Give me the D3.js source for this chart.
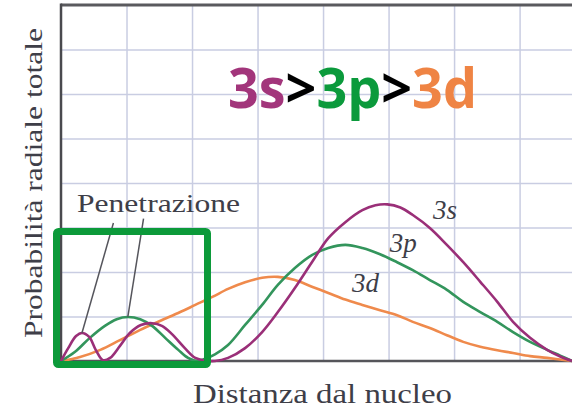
<!DOCTYPE html>
<html>
<head>
<meta charset="utf-8">
<title>Probabilità radiale totale</title>
<script src="https://d3js.org/d3.v7.min.js"></script>
<style>
	html, body {margin: 0; background: #fff; overflow: hidden}
	.grid line {stroke: #c9cde2; stroke-width: 1.5}
	.grid path {display: none}
	.serif {font-family: "Liberation Serif", "DejaVu Serif", serif; fill: #3e3e48}
</style>
</head>
<body>
<script>
	// x, y in grid units (one unit = one grid cell)
	var s3 = [[0,0],[0.11,0.29],[0.23,0.56],[0.32,0.63],[0.43,0.54],[0.53,0.25],[0.64,0.02],[0.75,0.07],
		[0.90,0.34],[1.05,0.63],[1.22,0.81],[1.39,0.85],[1.54,0.79],[1.69,0.61],[1.89,0.29],[2.05,0.07],
		[2.20,0.01],[2.35,0],[2.55,0.07],[2.81,0.29],[3.07,0.65],[3.31,1.10],[3.57,1.64],[3.83,2.22],
		[4.08,2.76],[4.34,3.12],[4.60,3.39],[4.80,3.50],[4.98,3.52],[5.18,3.45],[5.37,3.28],[5.63,2.99],
		[5.89,2.61],[6.14,2.22],[6.40,1.78],[6.66,1.33],[6.90,0.88],[7.16,0.52],[7.42,0.25],[7.62,0.10],
		[7.80,0]];

	var p3 = [[0,0],[0.21,0.20],[0.44,0.52],[0.67,0.79],[0.85,0.94],[1.02,0.99],[1.21,0.94],[1.39,0.79],
		[1.59,0.52],[1.79,0.25],[1.94,0.07],[2.08,0],[2.20,0.05],[2.35,0.15],[2.55,0.36],[2.81,0.81],
		[3.07,1.26],[3.31,1.71],[3.57,2.09],[3.83,2.38],[4.08,2.54],[4.34,2.61],[4.60,2.54],[4.87,2.40],
		[5.13,2.22],[5.37,2.04],[5.63,1.82],[5.89,1.60],[6.14,1.33],[6.40,1.10],[6.66,0.88],[6.90,0.65],
		[7.16,0.43],[7.42,0.25],[7.62,0.12],[7.80,0]];

	var d3s = [[0,0],[0.29,0.09],[0.60,0.25],[0.90,0.47],[1.21,0.70],[1.51,0.90],[1.82,1.10],[2.05,1.26],
		[2.31,1.44],[2.55,1.62],[2.81,1.77],[3.07,1.87],[3.31,1.89],[3.57,1.82],[3.83,1.67],[4.08,1.53],
		[4.34,1.38],[4.60,1.26],[4.87,1.14],[5.13,1.03],[5.37,0.88],[5.63,0.74],[5.89,0.58],[6.14,0.43],
		[6.40,0.32],[6.66,0.24],[6.90,0.18],[7.16,0.11],[7.42,0.07],[7.80,0]];

	var series = [
		{name: "3d", color: "#ef8a4c", data: d3s},
		{name: "3p", color: "#33955c", data: p3},
		{name: "3s", color: "#9a2f78", data: s3}
	];

	var gridX = [1, 2, 3, 4, 5, 6, 7];
	var gridY = [1, 2, 3, 4, 5, 6, 7];

	var labels = [
		{text: "3s", x: 5.68, y: 3.19},
		{text: "3p", x: 5.02, y: 2.45},
		{text: "3d", x: 4.44, y: 1.55}
	];

	var titleParts = [
		{text: "3s", color: "#a2357b"},
		{text: ">", color: "#000"},
		{text: "3p", color: "#0b9a3c"},
		{text: ">", color: "#000"},
		{text: "3d", color: "#ef8444"}
	];

	var width = 572, height = 411;
	var plotL = 61, plotR = 572, plotT = 5, plotB = 361;

	var svg = d3.select("body").append("svg")
		.attr("width", width)
		.attr("height", height);

	var x = d3.scaleLinear().domain([0, 7.8]).range([plotL, plotR]);
	var y = d3.scaleLinear().domain([0, 8]).range([plotB, plotT]);

	// grid
	svg.append("g")
		.attr("class", "grid")
		.attr("transform", "translate(0," + plotB + ")")
		.call(d3.axisBottom(x).tickValues(gridX).tickSize(-(plotB - plotT)).tickFormat(""));

	svg.append("g")
		.attr("class", "grid")
		.attr("transform", "translate(" + plotL + ",0)")
		.call(d3.axisLeft(y).tickValues(gridY).tickSize(-(plotR - plotL)).tickFormat(""));

	// frame
	svg.append("line").attr("x1", plotL).attr("x2", plotR).attr("y1", plotT).attr("y2", plotT)
		.attr("stroke", "#5a5a5e").attr("stroke-width", 3);
	svg.append("line").attr("x1", plotL).attr("x2", plotL).attr("y1", plotT - 1.5).attr("y2", plotB)
		.attr("stroke", "#4a4a4e").attr("stroke-width", 2.5);
	svg.append("line").attr("x1", plotL).attr("x2", plotR).attr("y1", plotB).attr("y2", plotB)
		.attr("stroke", "#55555a").attr("stroke-width", 2.5);

	// curves
	var line = d3.line()
		.x(function(d){ return x(d[0]); })
		.y(function(d){ return y(d[1]); })
		.curve(d3.curveCatmullRom.alpha(0.5));

	svg.append("g")
		.selectAll("path")
		.data(series)
		.enter().append("path")
		.attr("d", function(d){ return line(d.data); })
		.attr("fill", "none")
		.attr("stroke", function(d){ return d.color; })
		.attr("stroke-width", 2.6);

	// curve labels
	svg.append("g")
		.selectAll("text")
		.data(labels)
		.enter().append("text")
		.attr("class", "serif")
		.attr("x", function(d){ return x(d.x); })
		.attr("y", function(d){ return y(d.y); })
		.attr("font-size", 27)
		.attr("font-style", "italic")
		.text(function(d){ return d.text; });

	// penetration annotation
	svg.append("text")
		.attr("class", "serif")
		.attr("x", 77).attr("y", 212)
		.attr("font-size", 26)
		.attr("textLength", 163)
		.attr("lengthAdjust", "spacingAndGlyphs")
		.text("Penetrazione");

	var pointers = [[[0.80, 3.1], s3[3]], [[1.26, 3.2], p3[5]]];
	svg.append("g")
		.selectAll("line")
		.data(pointers)
		.enter().append("line")
		.attr("x1", function(d){ return x(d[0][0]); })
		.attr("y1", function(d){ return y(d[0][1]); })
		.attr("x2", function(d){ return x(d[1][0]); })
		.attr("y2", function(d){ return y(d[1][1]); })
		.attr("stroke", "#55555c")
		.attr("stroke-width", 1.5);

	svg.append("rect")
		.attr("x", 56.5).attr("y", 231.5)
		.attr("width", 151).attr("height", 133)
		.attr("rx", 2)
		.attr("fill", "none")
		.attr("stroke", "#0c9a3a")
		.attr("stroke-width", 7);

	// axis titles
	svg.append("text")
		.attr("class", "serif")
		.attr("transform", "translate(42,183) rotate(-90)")
		.attr("text-anchor", "middle")
		.attr("font-size", 26)
		.attr("textLength", 310)
		.attr("lengthAdjust", "spacingAndGlyphs")
		.text("Probabilità radiale totale");

	svg.append("text")
		.attr("class", "serif")
		.attr("x", 193).attr("y", 403)
		.attr("font-size", 27)
		.attr("textLength", 259)
		.attr("lengthAdjust", "spacingAndGlyphs")
		.text("Distanza dal nucleo");

	// big title
	var title = svg.append("text")
		.attr("x", 228).attr("y", 108)
		.attr("font-family", "'Open Sans', Lato, sans-serif")
		.attr("font-weight", "bold")
		.attr("font-size", 55)
		.attr("textLength", 249)
		.attr("lengthAdjust", "spacingAndGlyphs");

	title.selectAll("tspan")
		.data(titleParts)
		.enter().append("tspan")
		.attr("fill", function(d){ return d.color; })
		.text(function(d){ return d.text; });
</script>
</body>
</html>
